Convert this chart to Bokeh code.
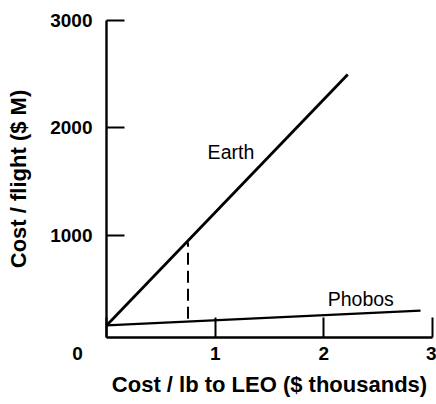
from bokeh.plotting import figure
from bokeh.models import Range1d, FixedTicker, Label
from bokeh.embed import file_html
from bokeh.resources import INLINE

# Data
earth_x = [0.0, 2.22]
earth_y = [162, 2497]
phobos_x = [0.0, 2.89]
phobos_y = [162, 301]
dash_x = [0.75, 0.75]
dash_y = [225, 935]
x_ticks = [0, 1, 2, 3]
y_ticks = [1000, 2000, 3000]
x_label = "Cost / lb to LEO ($ thousands)"
y_label = "Cost / flight ($ M)"

FONT = "Liberation Sans"
NB = "\u00a0"

p = figure(width=436, height=404, output_backend="svg", toolbar_location=None,
           x_range=Range1d(0, 3.0), y_range=Range1d(50, 3000),
           min_border_left=106, min_border_right=4, min_border_top=20,
           min_border_bottom=67)
p.outline_line_color = None
p.grid.visible = False
p.background_fill_color = "white"
p.border_fill_color = "white"

p.line(earth_x, earth_y, line_color="black", line_width=2.8)
p.line(phobos_x, phobos_y, line_color="black", line_width=2.3)
p.line(dash_x, dash_y, line_color="black", line_width=2, line_dash="12 6")

for ax in (p.xaxis[0], p.yaxis[0]):
    ax.axis_line_width = 2.4
    ax.axis_line_color = "black"
    ax.major_tick_line_width = 2
    ax.major_tick_line_color = "black"
    ax.minor_tick_line_color = None
    ax.major_label_text_font = FONT
    ax.major_label_text_font_size = "19px"
    ax.major_label_text_font_style = "bold"
    ax.major_label_text_color = "black"
    ax.axis_label_text_font = FONT
    ax.axis_label_text_font_size = "22px"
    ax.axis_label_text_font_style = "bold"
    ax.axis_label_text_color = "black"

p.xaxis.ticker = FixedTicker(ticks=x_ticks)
p.yaxis.ticker = FixedTicker(ticks=y_ticks)
# the origin label sits left of the y axis in the reference
p.xaxis.major_label_overrides = {0: "0" + NB * 11}
p.xaxis.major_tick_in = 20
p.xaxis.major_tick_out = 0
p.yaxis.major_tick_in = 18
p.yaxis.major_tick_out = 0
p.xaxis.major_label_standoff = 5
p.yaxis.major_label_standoff = 14
p.xaxis.axis_label = x_label
p.yaxis.axis_label = y_label
p.xaxis.axis_label_standoff = 5
p.yaxis.axis_label_standoff = 16

# series labels
p.add_layout(Label(x=1.145, y=1772, text="Earth", text_align="center", text_baseline="middle",
                   text_font=FONT, text_font_size="19.5px", text_color="black"))
p.add_layout(Label(x=2.34, y=405, text="Phobos", text_align="center", text_baseline="middle",
                   text_font=FONT, text_font_size="19.5px", text_color="black"))

open("out.html", "w").write(file_html(p, INLINE))
